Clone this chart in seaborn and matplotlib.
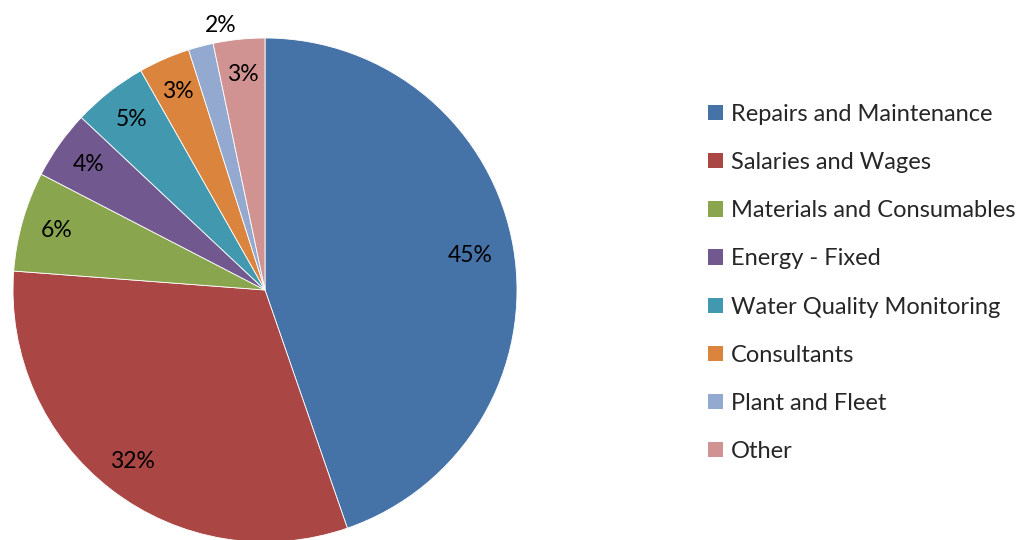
import matplotlib
matplotlib.use("Agg")
import matplotlib.pyplot as plt
import matplotlib.patches as mpatches
import seaborn as sns

# Cost categories and their shares (%)
categories = [
    "Repairs and Maintenance",
    "Salaries and Wages",
    "Materials and Consumables",
    "Energy - Fixed",
    "Water Quality Monitoring",
    "Consultants",
    "Plant and Fleet",
    "Other",
]
shares = [44.7, 31.5, 6.4, 4.4, 4.8, 3.3, 1.6, 3.3]
colors = ["#4572A7", "#AA4643", "#89A54E", "#71588F",
          "#4198AF", "#DB843D", "#93A9CF", "#D19392"]

sns.set_theme(style="white")
plt.rcParams["font.family"] = ["Lato", "DejaVu Sans"]

fig = plt.figure(figsize=(10.35, 5.4), dpi=100)
# pie centred at (265, 290) px, radius ~252 px
ax = fig.add_axes([13 / 1035, -2 / 540, 504 / 1035, 504 / 540])

wedges, texts, autotexts = ax.pie(
    shares, colors=colors, startangle=90, counterclock=False,
    autopct="%1.0f%%", pctdistance=0.86, radius=1.0,
    wedgeprops=dict(linewidth=0.6, edgecolor="white"),
    textprops=dict(fontsize=16.5, color="black"),
)
# first label sits a little further in
x0, y0 = autotexts[0].get_position()
autotexts[0].set_position((x0 * 0.96, y0 * 0.96))
# small slice label sits just outside the pie, nudged right
x6, y6 = autotexts[6].get_position()
autotexts[6].set_position((x6 * 1.26 + 0.1, y6 * 1.26))
ax.set_xlim(-1, 1)
ax.set_ylim(-1, 1)
ax.set_aspect("equal")
ax.axis("off")

handles = [mpatches.Patch(facecolor=c, edgecolor="none") for c in colors]
fig.legend(handles, categories, loc="upper left",
           bbox_to_anchor=(708 / 1035, 1 - 104 / 540),
           frameon=False, fontsize=17, labelspacing=1.15,
           handlelength=0.62, handleheight=0.62, handletextpad=0.34,
           borderaxespad=0, borderpad=0)

fig.savefig("out.png", dpi=100)
